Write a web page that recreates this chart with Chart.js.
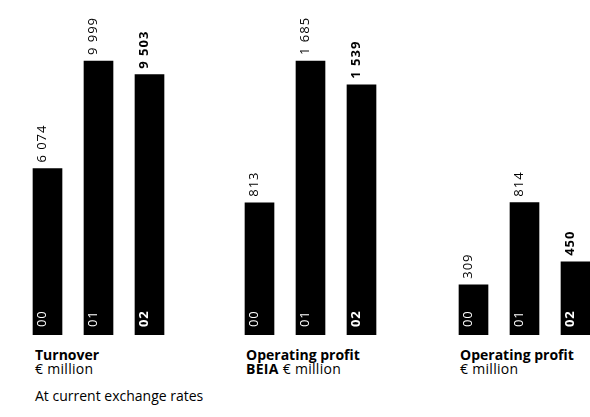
<!DOCTYPE html>
<html>
<head>
<meta charset="utf-8">
<script src="https://cdn.jsdelivr.net/npm/chart.js@4/dist/chart.umd.min.js"></script>
<style>
  html, body { margin: 0; padding: 0; background: #fff; overflow: hidden; }
  #wrap { position: relative; width: 590px; height: 417px; overflow: hidden; font-family: "Open Sans", sans-serif; color: #000; }
  .panel { position: absolute; top: 0; width: 153px; height: 335px; }
  .title { position: absolute; font-size: 14px; line-height: 14px; white-space: nowrap; }
  .title b { font-weight: 700; }
  .sub { font-weight: 400; letter-spacing: 0.3px; }
  .note { position: absolute; left: 35px; font-size: 14px; line-height: 14px; white-space: nowrap; }
</style>
</head>
<body>
<div id="wrap">
  <div class="panel" style="left:22px"><canvas id="c1" width="153" height="335"></canvas></div>
  <div class="panel" style="left:234px"><canvas id="c2" width="153" height="335"></canvas></div>
  <div class="panel" style="left:448px"><canvas id="c3" width="153" height="335"></canvas></div>

  <div class="title" style="left:35px; top:348px"><b>Turnover</b><br><span class="sub">€ million</span></div>
  <div class="title" style="left:246px; top:348px"><b>Operating profit</b><br><span class="sub"><b>BEIA</b> € million</span></div>
  <div class="title" style="left:460px; top:348px"><b>Operating profit</b><br><span class="sub">€ million</span></div>
  <div class="note" style="top:389px">At current exchange rates</div>
</div>
<script>
// Years shown on each bar
const years = ['00', '01', '02'];

// Turnover, € million
const turnover = [6074, 9999, 9503];
// Operating profit BEIA, € million
const operatingProfitBeia = [813, 1685, 1539];
// Operating profit, € million
const operatingProfit = [309, 814, 450];

// Upper ends of the value axes (both profit panels share one scale)
const turnoverMax = 12230;
const profitMax = 2060;

// Thousands separated by a space, e.g. 9 999
function fmt(v) {
  return String(v).replace(/\B(?=(\d{3})+(?!\d))/g, ' ');
}

// Draws the rotated value above each bar and the year inside its foot
const barLabels = {
  id: 'barLabels',
  afterDatasetsDraw(chart) {
    const ctx = chart.ctx;
    const meta = chart.getDatasetMeta(0);
    const values = chart.data.datasets[0].data;
    meta.data.forEach((bar, i) => {
      const last = i === values.length - 1;
      const weight = last ? '700' : '400';
      // value above the bar
      ctx.save();
      ctx.translate(bar.x - 1.5, bar.y - 6);
      ctx.rotate(-Math.PI / 2);
      ctx.font = weight + ' 13px "Open Sans", sans-serif';
      ctx.letterSpacing = '1px';
      ctx.fillStyle = '#000';
      ctx.textAlign = 'left';
      ctx.textBaseline = 'alphabetic';
      ctx.fillText(fmt(values[i]), 0, 0);
      ctx.restore();
      // year inside the bar
      ctx.save();
      ctx.translate(bar.x - 1.5, bar.base - 8);
      ctx.rotate(-Math.PI / 2);
      ctx.font = weight + ' 13px "Open Sans", sans-serif';
      ctx.letterSpacing = '0.8px';
      ctx.fillStyle = '#fff';
      ctx.textAlign = 'left';
      ctx.textBaseline = 'alphabetic';
      ctx.fillText(chart.data.labels[i], 0, 0);
      ctx.restore();
    });
  }
};

function makeChart(id, values, max) {
  return new Chart(document.getElementById(id), {
    type: 'bar',
    data: {
      labels: years,
      datasets: [{
        data: values,
        backgroundColor: '#000',
        borderWidth: 0,
        barThickness: 29
      }]
    },
    options: {
      responsive: false,
      animation: false,
      devicePixelRatio: 1,
      layout: { padding: 0 },
      plugins: { legend: { display: false }, tooltip: { enabled: false } },
      scales: {
        x: { display: false, offset: true },
        y: { display: false, min: 0, max: max }
      }
    },
    plugins: [barLabels]
  });
}

makeChart('c1', turnover, turnoverMax);
makeChart('c2', operatingProfitBeia, profitMax);
makeChart('c3', operatingProfit, profitMax);
</script>
</body>
</html>
